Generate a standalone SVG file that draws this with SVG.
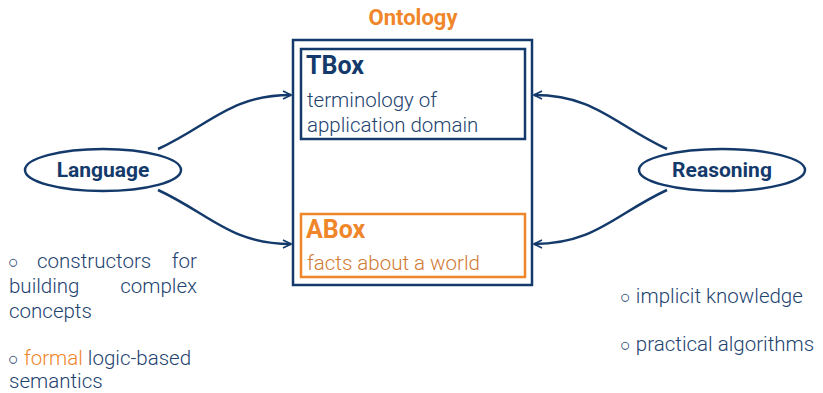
<svg xmlns="http://www.w3.org/2000/svg" width="823" height="393" viewBox="0 0 823 393">
  <defs>
    <marker id="arrow" viewBox="0 0 10 10" refX="9" refY="5" markerWidth="10" markerHeight="10" markerUnits="userSpaceOnUse" orient="auto">
      <path d="M1,1 L9,5 L1,9" fill="none" stroke="#143a6b" stroke-width="1.6"/>
    </marker>
    <style>
      .frame { fill: none; stroke: #143a6b; stroke-width: 2.5; }
      .tbox { fill: none; stroke: #143a6b; stroke-width: 2.5; }
      .abox { fill: none; stroke: #f0862a; stroke-width: 2.5; }
      .ell { fill: #ffffff; stroke: #143a6b; stroke-width: 2.5; }
      .edge { fill: none; stroke: #143a6b; stroke-width: 2.5; marker-end: url(#arrow); }
      .title { font-family: Roboto, "Liberation Sans", sans-serif; font-weight: bold; }
      .body { font-family: Roboto, "Liberation Sans", sans-serif; font-weight: 300; font-size: 20.5px; fill: #23436f; }
      .bullet { font-size: 18px; }
      .orange { fill: #f0862a; }
      .navy { fill: #143a6b; }
    </style>
  </defs>

  <!-- ontology frame -->
  <g id="ontology">
    <text class="title orange" x="413" y="25" font-size="22" text-anchor="middle">Ontology</text>
    <rect class="frame" x="293" y="40" width="239" height="245"/>
  </g>

  <g id="tbox">
    <rect class="tbox" x="301" y="49" width="224" height="90"/>
    <text class="title navy" x="306" y="74" font-size="25">TBox</text>
    <text class="body" x="307" y="107">terminology of</text>
    <text class="body" x="307" y="132">application domain</text>
  </g>

  <g id="abox">
    <rect class="abox" x="301" y="214" width="224" height="63"/>
    <text class="title orange" x="306" y="238" font-size="25">ABox</text>
    <text class="body" x="307" y="270" style="fill:#d07a33">facts about a world</text>
  </g>

  <!-- connectors -->
  <g id="connectors">
    <path class="edge" d="M158,149 C210,125 230,95 291,95"/>
    <path class="edge" d="M158,190 C210,214 230,244 291,244"/>
    <path class="edge" d="M667,149 C615,125 595,95 534,95"/>
    <path class="edge" d="M667,190 C615,214 595,244 534,244"/>
  </g>

  <g id="language">
    <ellipse class="ell" cx="103" cy="170" rx="78" ry="21"/>
    <text class="title navy" x="103" y="177" font-size="21" text-anchor="middle">Language</text>
  </g>

  <g id="reasoning">
    <ellipse class="ell" cx="722" cy="170" rx="83" ry="21"/>
    <text class="title navy" x="722" y="177" font-size="21" text-anchor="middle">Reasoning</text>
  </g>

  <!-- language notes (justified lines) -->
  <g id="language-notes" class="body">
    <text class="bullet" x="8" y="268">○</text>
    <text x="37" y="268">constructors</text>
    <text x="197" y="268" text-anchor="end">for</text>
    <text x="9" y="293">building</text>
    <text x="197" y="293" text-anchor="end">complex</text>
    <text x="9" y="318">concepts</text>
    <text x="8" y="365"><tspan class="bullet">○</tspan> <tspan class="orange">formal</tspan> logic-based</text>
    <text x="9" y="388">semantics</text>
  </g>

  <g id="reasoning-notes" class="body">
    <text x="620" y="303"><tspan class="bullet">○</tspan> implicit knowledge</text>
    <text x="620" y="351"><tspan class="bullet">○</tspan> practical algorithms</text>
  </g>
</svg>
